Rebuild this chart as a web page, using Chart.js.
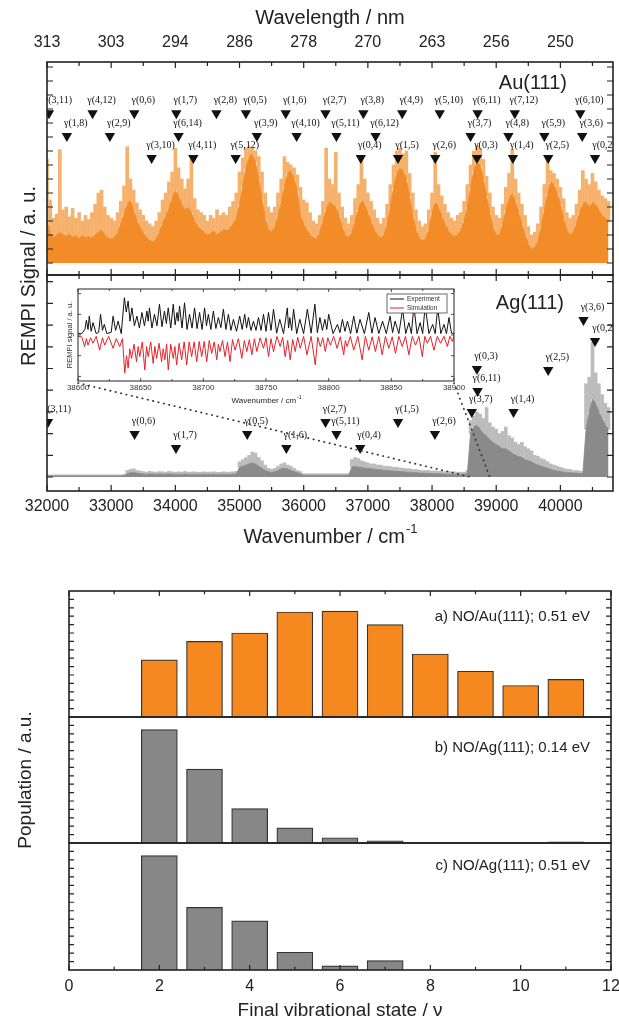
<!DOCTYPE html>
<html>
<head>
<meta charset="utf-8">
<title>REMPI spectra and vibrational state populations</title>
<script src="https://cdn.jsdelivr.net/npm/chart.js"></script>
<style>
  body { margin: 0; background: #fff; }
  #page { position: relative; width: 619px; height: 1025px; overflow: hidden; }
  #page canvas { position: absolute; left: 0; }
  .ytitle { position: absolute; transform: translate(-50%, -50%) rotate(-90deg); white-space: nowrap;
            font-family: "Liberation Sans", Arial, sans-serif; color: #222; }
</style>
</head>
<body>
<div id="page">
  <canvas id="au" width="619" height="281" style="top:0"></canvas>
  <canvas id="ag" width="619" height="292" style="top:268px"></canvas>
  <canvas id="inset" width="410" height="130" style="top:280px;left:60px"></canvas>
  <canvas id="barA" width="619" height="150" style="top:580px"></canvas>
  <canvas id="barB" width="619" height="150" style="top:705px"></canvas>
  <canvas id="barC" width="619" height="194" style="top:831px"></canvas>
  <div class="ytitle" style="left:28px;top:276px;font-size:20px">REMPI Signal / a. u.</div>
  <div class="ytitle" style="left:25px;top:780px;font-size:19px">Population / a.u.</div>
</div>
<script>
// ---- data ----
const wavenumberTicks = [32000, 33000, 34000, 35000, 36000, 37000, 38000, 39000, 40000];
const wavelengthLabels = ['313', '303', '294', '286', '278', '270', '263', '256', '250'];

const spectrumWn = [
  32000, 32050, 32100, 32150, 32200, 32250, 32300, 32350, 32400, 32450,
  32500, 32550, 32600, 32650, 32700, 32750, 32800, 32850, 32900, 32950,
  33000, 33050, 33100, 33150, 33200, 33250, 33300, 33350, 33400, 33450,
  33500, 33550, 33600, 33650, 33700, 33750, 33800, 33850, 33900, 33950,
  34000, 34050, 34100, 34150, 34200, 34250, 34300, 34350, 34400, 34450,
  34500, 34550, 34600, 34650, 34700, 34750, 34800, 34850, 34900, 34950,
  35000, 35050, 35100, 35150, 35200, 35250, 35300, 35350, 35400, 35450,
  35500, 35550, 35600, 35650, 35700, 35750, 35800, 35850, 35900, 35950,
  36000, 36050, 36100, 36150, 36200, 36250, 36300, 36350, 36400, 36450,
  36500, 36550, 36600, 36650, 36700, 36750, 36800, 36850, 36900, 36950,
  37000, 37050, 37100, 37150, 37200, 37250, 37300, 37350, 37400, 37450,
  37500, 37550, 37600, 37650, 37700, 37750, 37800, 37850, 37900, 37950,
  38000, 38050, 38100, 38150, 38200, 38250, 38300, 38350, 38400, 38450,
  38500, 38550, 38600, 38650, 38700, 38750, 38800, 38850, 38900, 38950,
  39000, 39050, 39100, 39150, 39200, 39250, 39300, 39350, 39400, 39450,
  39500, 39550, 39600, 39650, 39700, 39750, 39800, 39850, 39900, 39950,
  40000, 40050, 40100, 40150, 40200, 40250, 40300, 40350, 40400, 40450,
  40500, 40550, 40600, 40650, 40700, 40750
];

// Au(111): dense part of the trace and the lighter spikes above it
const auBody = [
  3.0, 2.2, 1.8, 2.0, 2.2, 2.0, 1.9, 2.1, 1.8, 2.0,
  1.7, 2.0, 1.8, 1.9, 1.8, 2.0, 2.2, 2.4, 2.0, 1.8,
  1.7, 1.8, 2.2, 2.8, 3.5, 4.2, 4.5, 3.8, 3.0, 2.6,
  2.2, 1.8, 1.6, 1.5, 1.7, 2.2, 2.8, 3.4, 3.9, 4.6,
  5.2, 4.8, 4.2, 3.8, 4.0, 3.6, 3.0, 2.6, 2.4, 2.2,
  2.0, 2.1, 2.3, 2.0, 2.2, 2.4, 2.3, 2.5, 2.8, 3.2,
  4.2, 5.5, 6.8, 7.6, 7.8, 7.2, 6.0, 4.6, 3.2, 2.4,
  2.2, 2.6, 3.4, 4.4, 5.5, 6.4, 6.6, 6.0, 5.2, 3.4,
  2.8, 2.4, 2.0, 1.8, 1.7, 2.2, 3.0, 3.8, 4.4, 4.2,
  4.0, 3.4, 2.6, 2.0, 1.8, 2.2, 3.0, 3.8, 4.5, 4.2,
  3.6, 3.0, 2.4, 2.0, 1.8, 2.0, 2.8, 4.0, 5.4, 6.4,
  6.8, 6.6, 6.0, 4.8, 3.4, 2.4, 1.8, 1.6, 1.7, 2.4,
  3.6, 4.4, 4.0, 3.4, 2.8, 2.4, 2.0, 1.9, 2.0, 2.4,
  3.0, 4.0, 5.4, 6.6, 7.2, 7.0, 6.0, 4.8, 3.6, 2.6,
  2.0, 2.0, 2.8, 3.8, 4.6, 5.0, 4.4, 3.6, 2.8, 2.0,
  1.4, 1.0, 1.1, 1.6, 2.6, 3.8, 5.0, 5.8, 5.6, 5.0,
  4.2, 3.2, 2.4, 2.0, 2.2, 2.8, 3.6, 4.2, 4.4, 4.0,
  4.3, 4.2, 3.8, 3.4, 3.2, 3.0
];
const auPeak = [
  7.4, 4.5, 3.2, 3.5, 8.1, 3.8, 4.0, 3.3, 3.9, 3.2,
  3.6, 3.0, 3.4, 3.1, 3.6, 4.2, 5.0, 5.2, 4.0, 3.4,
  3.2, 3.0, 3.6, 4.4, 5.5, 8.3, 6.0, 5.2, 4.3, 3.8,
  3.4, 3.0, 2.8, 2.6, 3.0, 3.6, 4.5, 5.0, 5.8, 6.5,
  8.2, 6.8, 6.0, 5.3, 6.0, 7.5, 4.6, 3.8, 3.6, 3.4,
  3.0, 3.4, 3.2, 3.8, 3.4, 3.6, 3.4, 4.0, 4.4, 5.0,
  6.5, 7.5, 8.2, 8.3, 8.2, 8.0, 7.6, 6.5, 5.0, 4.0,
  3.6, 4.0, 5.0, 6.0, 7.6, 7.2, 7.0, 6.8, 6.3, 5.4,
  4.5, 4.3, 3.6, 3.0, 2.8, 3.4, 4.4, 8.2, 6.0, 5.6,
  7.9, 5.0, 4.0, 3.2, 2.8, 3.4, 4.6, 5.6, 7.5, 6.0,
  5.0, 4.4, 3.8, 3.2, 2.8, 3.2, 4.2, 5.6, 7.0, 8.0,
  8.2, 7.8, 8.0, 6.4, 5.0, 3.8, 3.0, 2.6, 2.8, 3.8,
  5.0, 7.9, 5.6, 4.8, 4.2, 3.6, 3.2, 3.0, 3.4, 3.6,
  4.4, 5.6, 7.0, 8.0, 8.4, 8.2, 7.4, 6.2, 5.0, 4.0,
  3.4, 3.2, 4.2, 5.4, 6.4, 8.1, 6.0, 5.0, 4.2, 3.4,
  2.6, 2.0, 2.2, 2.8, 4.0, 5.6, 7.4, 6.6, 6.4, 6.0,
  5.4, 4.6, 3.6, 3.2, 3.4, 4.2, 5.2, 6.6, 6.0, 5.6,
  6.4, 5.8, 5.2, 4.8, 4.6, 4.4
];

// Ag(111)
const agBody = [
  0.05, 0.05, 0.05, 0.05, 0.05, 0.05, 0.05, 0.05, 0.05, 0.05,
  0.05, 0.05, 0.05, 0.05, 0.05, 0.05, 0.05, 0.05, 0.05, 0.05,
  0.05, 0.05, 0.05, 0.05, 0.06, 0.15, 0.2, 0.2, 0.18, 0.15,
  0.14, 0.12, 0.14, 0.13, 0.12, 0.14, 0.13, 0.12, 0.14, 0.13,
  0.12, 0.13, 0.12, 0.14, 0.12, 0.12, 0.13, 0.12, 0.12, 0.13,
  0.12, 0.12, 0.13, 0.12, 0.12, 0.13, 0.12, 0.12, 0.13, 0.14,
  0.45, 0.5, 0.55, 0.6, 0.65, 0.6, 0.5, 0.4, 0.3, 0.25,
  0.2, 0.25, 0.3, 0.38, 0.4, 0.38, 0.3, 0.25, 0.2, 0.15,
  0.08, 0.08, 0.08, 0.08, 0.08, 0.08, 0.08, 0.08, 0.08, 0.08,
  0.08, 0.08, 0.08, 0.08, 0.08, 0.45, 0.5, 0.45, 0.45, 0.4,
  0.4, 0.38, 0.36, 0.34, 0.33, 0.3, 0.3, 0.28, 0.28, 0.26,
  0.25, 0.24, 0.22, 0.22, 0.2, 0.2, 0.18, 0.18, 0.17, 0.16,
  0.16, 0.15, 0.15, 0.14, 0.14, 0.13, 0.13, 0.12, 0.12, 0.12,
  0.12, 0.15, 2.0, 2.3, 2.4, 2.2, 2.0, 1.9, 1.7, 1.6,
  1.5, 1.4, 1.3, 1.3, 1.2, 1.1, 1.0, 0.95, 0.9, 0.8,
  0.75, 0.7, 0.6, 0.55, 0.5, 0.45, 0.4, 0.35, 0.3, 0.28,
  0.25, 0.22, 0.2, 0.2, 0.18, 0.18, 0.15, 0.15, 2.2, 3.0,
  3.6, 3.4, 3.0, 2.7, 2.4, 2.2
];
const agPeak = [
  0.1, 0.1, 0.1, 0.1, 0.1, 0.1, 0.1, 0.1, 0.1, 0.1,
  0.1, 0.1, 0.1, 0.1, 0.1, 0.1, 0.1, 0.1, 0.1, 0.1,
  0.1, 0.1, 0.1, 0.1, 0.12, 0.3, 0.35, 0.38, 0.3, 0.28,
  0.25, 0.22, 0.26, 0.24, 0.22, 0.25, 0.24, 0.22, 0.26, 0.24,
  0.22, 0.24, 0.22, 0.26, 0.22, 0.23, 0.24, 0.22, 0.22, 0.24,
  0.22, 0.23, 0.24, 0.22, 0.22, 0.24, 0.22, 0.23, 0.24, 0.26,
  0.7, 0.8, 0.9, 1.0, 1.15, 1.1, 0.9, 0.75, 0.55, 0.4,
  0.35, 0.4, 0.5, 0.6, 0.65, 0.55, 0.5, 0.4, 0.3, 0.25,
  0.15, 0.15, 0.15, 0.15, 0.15, 0.15, 0.15, 0.15, 0.15, 0.15,
  0.15, 0.15, 0.15, 0.15, 0.15, 0.8, 0.9, 0.85, 0.75, 0.7,
  0.65, 0.6, 0.6, 0.55, 0.55, 0.5, 0.5, 0.48, 0.45, 0.45,
  0.42, 0.4, 0.38, 0.38, 0.35, 0.35, 0.32, 0.3, 0.3, 0.3,
  0.28, 0.28, 0.26, 0.26, 0.25, 0.25, 0.24, 0.24, 0.22, 0.22,
  0.22, 0.3, 2.6, 2.8, 3.0, 2.9, 2.7, 3.2, 2.5, 2.3,
  2.2, 2.0, 2.1, 2.3, 1.9, 1.8, 1.6, 1.5, 1.6, 1.4,
  1.3, 1.2, 1.0, 0.95, 0.85, 0.8, 0.7, 0.6, 0.55, 0.5,
  0.45, 0.4, 0.35, 0.35, 0.3, 0.3, 0.28, 0.25, 4.3, 4.6,
  6.2, 4.8, 4.3, 3.8, 3.4, 3.2
];

// band assignments (gamma bands) marked with triangles
const auMarkerText = [
  'γ(3,11)', 'γ(4,12)', 'γ(0,6)', 'γ(1,7)', 'γ(2,8)', 'γ(0,5)', 'γ(1,6)', 'γ(2,7)', 'γ(3,8)', 'γ(4,9)',
  'γ(5,10)', 'γ(6,11)', 'γ(7,12)', 'γ(6,10)',
  'γ(1,8)', 'γ(2,9)', 'γ(6,14)', 'γ(3,9)', 'γ(4,10)', 'γ(5,11)', 'γ(6,12)', 'γ(3,7)', 'γ(4,8)', 'γ(5,9)', 'γ(3,6)',
  'γ(3,10)', 'γ(4,11)', 'γ(5,12)', 'γ(0,4)', 'γ(1,5)', 'γ(2,6)', 'γ(0,3)', 'γ(1,4)', 'γ(2,5)', 'γ(0,2)'
];
const auMarkerWn = [
  32030, 32710, 33360, 34015, 34640, 35100, 35720, 36340, 36930, 37535, 38120, 38710, 39290, 40310,
  32310, 32980, 34050, 35270, 35890, 36510, 37120, 38600, 39190, 39750, 40340,
  33630, 34280, 34940, 36890, 37470, 38050, 38700, 39260, 39810, 40540
];
const auMarkerLevel = [
  10.7, 10.7, 10.7, 10.7, 10.7, 10.7, 10.7, 10.7, 10.7, 10.7, 10.7, 10.7, 10.7, 10.7,
  9.07, 9.07, 9.07, 9.07, 9.07, 9.07, 9.07, 9.07, 9.07, 9.07, 9.07,
  7.5, 7.5, 7.5, 7.5, 7.5, 7.5, 7.5, 7.5, 7.5, 7.5
];
const agMarkerText = [
  'γ(3,11)', 'γ(0,6)', 'γ(1,7)', 'γ(0,5)', 'γ(1,6)', 'γ(2,7)', 'γ(5,11)', 'γ(0,4)', 'γ(1,5)',
  'γ(2,6)', 'γ(3,7)', 'γ(6,11)', 'γ(0,3)', 'γ(1,4)', 'γ(2,5)', 'γ(3,6)', 'γ(0,2)'
];
const agMarkerWn = [32015, 33365, 34010, 35120, 35730, 36340, 36510, 36880, 37470, 38045, 38620, 38710, 38700, 39270, 39810, 40360, 40540];
const agMarkerLevel = [2.53, 1.98, 1.34, 1.98, 1.34, 2.53, 1.98, 1.34, 2.53, 1.98, 3.0, 3.96, 4.98, 3.0, 4.93, 7.23, 6.27];

// inset: 38600 - 38900 cm-1, [wavenumber, signal]
const insetTicks = [38600, 38650, 38700, 38750, 38800, 38850, 38900];
const experiment = [
  [38600, 0.03], [38603, 0.03], [38605.5, 0.12], [38606.7, 0.32], [38608, 0.12], [38609, 0.41], [38610.5, 0.08],
  [38612, 0.27], [38614.5, 0.03], [38616.5, 0.06], [38618, 0.45], [38619.5, 0.1], [38621, 0.23], [38623, 0.03],
  [38626.5, 0.06], [38628, 0.41], [38630, 0.1], [38632, 0.3], [38634.5, 0.03], [38637, 0.81], [38638.5, 0.5],
  [38640, 0.74], [38641.5, 0.3], [38643, 0.59], [38645, 0.2], [38647, 0.41], [38649, 0.15], [38651, 0.49],
  [38653, 0.2], [38655, 0.52], [38656, 0.3], [38657, 0.59], [38659, 0.15], [38661, 0.45], [38663, 0.2],
  [38665, 0.67], [38667, 0.18], [38669, 0.52], [38670.5, 0.25], [38672, 0.59], [38674, 0.15], [38676, 0.67],
  [38677.5, 0.22], [38679, 0.49], [38680, 0.3], [38681, 0.63], [38683, 0.15], [38685, 0.7], [38687, 0.12],
  [38689, 0.45], [38691, 0.15], [38693, 0.59], [38695, 0.14], [38697, 0.49], [38699, 0.12], [38701, 0.59],
  [38702.5, 0.2], [38704, 0.45], [38706, 0.12], [38708, 0.52], [38710, 0.14], [38712, 0.38], [38714, 0.16],
  [38716, 0.56], [38718, 0.12], [38720, 0.45], [38722, 0.1], [38724, 0.34], [38726.5, 0.08], [38729, 0.41],
  [38731, 0.12], [38733, 0.45], [38734.5, 0.15], [38736, 0.38], [38738, 0.1], [38740, 0.3], [38742, 0.1],
  [38744, 0.38], [38746, 0.1], [38748, 0.45], [38750, 0.08], [38752, 0.49], [38754, 0.1], [38756, 0.56],
  [38758.5, 0.04], [38761, 0.34], [38764, 0.03], [38767, 0.59], [38768, 0.15], [38769, 0.38], [38770.5, 0.1],
  [38772, 0.56], [38774.5, 0.03], [38777, 0.34], [38780, 0.03], [38783, 0.56], [38786, 0.04], [38789, 0.67],
  [38791, 0.05], [38793, 0.38], [38795, 0.1], [38797, 0.34], [38798.5, 0.12], [38800, 0.45], [38803.5, 0.03],
  [38807, 0.23], [38809, 0.05], [38811, 0.34], [38813, 0.08], [38815, 0.3], [38817.5, 0.03], [38820, 0.41],
  [38822.5, 0.04], [38825, 0.34], [38828.5, 0.03], [38832, 0.49], [38834.5, 0.04], [38837, 0.38], [38840, 0.03],
  [38843, 0.3], [38846, 0.03], [38849, 0.41], [38851, 0.05], [38853, 0.3], [38856, 0.03], [38859, 0.56],
  [38861.5, 0.03], [38864, 0.27], [38866, 0.03], [38868, 0.63], [38870.5, 0.03], [38873, 0.27], [38875, 0.03],
  [38877, 0.63], [38880, 0.03], [38883, 0.23], [38885, 0.03], [38887, 0.59], [38889.5, 0.03], [38892, 0.23],
  [38894, 0.03], [38896, 0.38], [38898, 0.04], [38900, 0.03]
];
const simulation = [
  [38600, -0.03], [38603, -0.04], [38605.3, -0.25], [38606.7, -0.08], [38608, -0.22], [38610, -0.06], [38612, -0.18],
  [38614.5, -0.03], [38617.3, -0.33], [38619.5, -0.06], [38621.3, -0.22], [38624.5, -0.03], [38628, -0.29],
  [38630.5, -0.08], [38633.3, -0.25], [38635.5, -0.08], [38637.3, -0.83], [38638.7, -0.45], [38640, -0.72],
  [38641.3, -0.3], [38642.7, -0.51], [38644.7, -0.2], [38646.7, -0.58], [38648, -0.25], [38649.3, -0.47],
  [38651.3, -0.15], [38653.3, -0.76], [38654.7, -0.25], [38656, -0.47], [38658, -0.15], [38660, -0.62],
  [38661.3, -0.25], [38662.7, -0.51], [38664.7, -0.18], [38666.7, -0.58], [38668, -0.3], [38669.3, -0.54],
  [38670.7, -0.2], [38672, -0.76], [38674, -0.2], [38676, -0.51], [38677.3, -0.25], [38678.7, -0.65],
  [38680.7, -0.18], [38682.7, -0.54], [38684.7, -0.15], [38686.7, -0.65], [38688.7, -0.15], [38690.7, -0.47],
  [38692.7, -0.15], [38694.7, -0.58], [38696.7, -0.14], [38698.7, -0.47], [38700.7, -0.14], [38702.7, -0.58],
  [38704.7, -0.12], [38706.7, -0.4], [38708.7, -0.15], [38710.7, -0.54], [38712, -0.2], [38713.3, -0.36],
  [38715.3, -0.12], [38717.3, -0.47], [38719.3, -0.15], [38721.3, -0.58], [38723.3, -0.1], [38725.3, -0.33],
  [38728, -0.08], [38730.7, -0.51], [38732.7, -0.12], [38734.7, -0.36], [38736.7, -0.1], [38738.7, -0.43],
  [38740.7, -0.08], [38742.7, -0.36], [38745.3, -0.06], [38748, -0.29], [38750, -0.06], [38752, -0.47],
  [38754, -0.08], [38756, -0.36], [38758.7, -0.03], [38761.3, -0.25], [38763.3, -0.05], [38765.3, -0.47],
  [38767.3, -0.12], [38769.3, -0.54], [38771.3, -0.1], [38773.3, -0.36], [38775.3, -0.05], [38777.3, -0.29],
  [38780, -0.03], [38782.7, -0.43], [38786, -0.03], [38789.3, -0.65], [38791.3, -0.05], [38793.3, -0.25],
  [38795.3, -0.06], [38797.3, -0.36], [38799.3, -0.06], [38801.3, -0.22], [38804, -0.03], [38806.7, -0.29],
  [38809.3, -0.04], [38812, -0.43], [38813.3, -0.12], [38814.7, -0.25], [38817.3, -0.03], [38820, -0.33],
  [38823.3, -0.03], [38826.7, -0.54], [38829.3, -0.03], [38832, -0.33], [38834.7, -0.04], [38837.3, -0.36],
  [38840, -0.03], [38842.7, -0.43], [38845.3, -0.03], [38848, -0.29], [38850.7, -0.04], [38853.3, -0.4],
  [38856, -0.03], [38858.7, -0.25], [38861.3, -0.03], [38864, -0.43], [38866.7, -0.03], [38869.3, -0.22],
  [38872, -0.03], [38874.7, -0.47], [38876.7, -0.03], [38878.7, -0.18], [38881.3, -0.03], [38884, -0.33],
  [38886.7, -0.03], [38889.3, -0.18], [38892, -0.03], [38894.7, -0.25], [38896.7, -0.03], [38898.7, -0.14],
  [38900, -0.03]
];

// vibrational state populations
const stateTicks = [0, 2, 4, 6, 8, 10, 12];
const states = [2, 3, 4, 5, 6, 7, 8, 9, 10, 11];
const popAu051 = [6.8, 9.0, 10.0, 12.5, 12.6, 11.0, 7.5, 5.45, 3.75, 4.47];
const popAg014 = [13.5, 8.8, 4.1, 1.8, 0.63, 0.27, null, null, null, 0.15];
const popAg051 = [13.5, 7.4, 5.8, 2.1, 0.48, 1.1, null, null, null, null];

// ---- helpers / plugins ----
const FONT = '"Liberation Sans", Arial, sans-serif';
Chart.defaults.font.family = FONT;
Chart.defaults.color = '#222';
Chart.defaults.animation = false;
Chart.defaults.plugins.legend.display = false;
Chart.defaults.plugins.tooltip.enabled = false;

const toXY = (xs, ys) => xs.map((v, i) => ({ x: v, y: ys[i] }));
const fixedTicks = list => s => { s.ticks = list.map(v => ({ value: v })); };

// box round each panel with inward ticks on every side
const frame = {
  id: 'frame',
  afterDraw(chart, args, o) {
    if (!o.yStep) return;
    const { ctx, chartArea: a } = chart;
    const x = chart.scales.x, y = chart.scales.y;
    const len = o.tick || 5;
    ctx.save();
    ctx.strokeStyle = '#222';
    ctx.lineWidth = o.thin ? 0.8 : 1.2;
    ctx.beginPath();
    if (o.xStep) {
      for (let v = x.min; v <= x.max + 1e-6; v += o.xStep) {
        const px = x.getPixelForValue(v);
        const l = Math.abs(v % o.xMajor) < 1e-6 ? len : len * 0.65;
        if (o.top) { ctx.moveTo(px, a.top); ctx.lineTo(px, a.top + l); }
        if (o.bottom) { ctx.moveTo(px, a.bottom); ctx.lineTo(px, a.bottom - l); }
      }
    }
    for (let v = o.yFrom; v <= o.yTo + 1e-6; v += o.yStep) {
      const py = y.getPixelForValue(v);
      ctx.moveTo(a.left, py); ctx.lineTo(a.left + len, py);
      ctx.moveTo(a.right, py); ctx.lineTo(a.right - len, py);
    }
    ctx.stroke();
    ctx.lineWidth = o.thin ? 1 : 1.6;
    ctx.strokeRect(a.left, a.top, a.right - a.left, a.bottom - a.top);
    ctx.restore();
  }
};

// γ(v',v'') names next to the triangles of dataset 0
const markerText = {
  id: 'markerText',
  afterDatasetsDraw(chart, args, o) {
    if (!o.text) return;
    const { ctx, chartArea: a } = chart;
    ctx.save();
    ctx.beginPath();
    ctx.rect(a.left, a.top, a.right - a.left, a.bottom - a.top);
    ctx.clip();
    ctx.font = '10px "Liberation Serif", "Times New Roman", serif';
    ctx.fillStyle = '#111';
    ctx.textAlign = 'center';
    ctx.textBaseline = 'middle';
    chart.getDatasetMeta(0).data.forEach((p, i) => ctx.fillText(o.text[i], p.x + 9, p.y - 13));
    ctx.restore();
  }
};

const panelLabel = {
  id: 'panelLabel',
  afterDraw(chart, args, o) {
    if (!o.text) return;
    const { ctx, chartArea: a } = chart;
    ctx.save();
    ctx.font = o.size + 'px ' + FONT;
    ctx.fillStyle = '#222';
    ctx.textAlign = 'right';
    ctx.textBaseline = 'middle';
    ctx.fillText(o.text, a.right - o.right, a.top + o.top);
    ctx.restore();
  }
};

// x title with a superscript part (cm-1)
const xTitle = {
  id: 'xTitle',
  afterDraw(chart, args, o) {
    if (!o.text) return;
    const { ctx, chartArea: a } = chart;
    const big = o.size + 'px ' + FONT, small = Math.round(o.size * 0.65) + 'px ' + FONT;
    ctx.save();
    ctx.fillStyle = '#222';
    ctx.textAlign = 'left';
    ctx.textBaseline = 'middle';
    ctx.font = big;
    const w1 = ctx.measureText(o.text).width;
    ctx.font = small;
    const w2 = ctx.measureText(o.sup).width;
    const x0 = (a.left + a.right) / 2 - (w1 + w2) / 2, y0 = a.bottom + o.dy;
    ctx.font = big;
    ctx.fillText(o.text, x0, y0);
    ctx.font = small;
    ctx.fillText(o.sup, x0 + w1 + 1, y0 - o.size * 0.4);
    ctx.restore();
  }
};

const sideTitle = {
  id: 'sideTitle',
  afterDraw(chart, args, o) {
    if (!o.text) return;
    const { ctx, chartArea: a } = chart;
    ctx.save();
    ctx.translate(o.x, (a.top + a.bottom) / 2);
    ctx.rotate(-Math.PI / 2);
    ctx.font = o.size + 'px ' + FONT;
    ctx.fillStyle = '#333';
    ctx.textAlign = 'center';
    ctx.textBaseline = 'middle';
    ctx.fillText(o.text, 0, 0);
    ctx.restore();
  }
};

const legendBox = {
  id: 'legendBox',
  afterDraw(chart, args, o) {
    if (!o.show) return;
    const { ctx, chartArea: a } = chart;
    const w = 60, h = 19, x0 = a.right - 7 - w, y0 = a.top + 5;
    ctx.save();
    ctx.fillStyle = '#fff';
    ctx.fillRect(x0, y0, w, h);
    ctx.strokeStyle = '#444';
    ctx.lineWidth = 0.8;
    ctx.strokeRect(x0, y0, w, h);
    ctx.font = '6.5px ' + FONT;
    ctx.textBaseline = 'middle';
    chart.data.datasets.forEach((d, i) => {
      const yy = y0 + 5 + i * 9;
      ctx.strokeStyle = d.borderColor;
      ctx.lineWidth = 1;
      ctx.beginPath();
      ctx.moveTo(x0 + 3, yy);
      ctx.lineTo(x0 + 17, yy);
      ctx.stroke();
      ctx.fillStyle = '#333';
      ctx.fillText(d.label, x0 + 20, yy);
    });
    ctx.restore();
  }
};

// dotted lines from the inset corners down to the zoomed part of the Ag trace
let insetChart = null;
const zoomLines = {
  id: 'zoomLines',
  afterDatasetsDraw(chart, args, o) {
    if (!o.show || !insetChart) return;
    const { ctx } = chart;
    const r0 = chart.canvas.getBoundingClientRect();
    const r1 = insetChart.canvas.getBoundingClientRect();
    const ix = insetChart.scales.x;
    ctx.save();
    ctx.strokeStyle = '#333';
    ctx.lineWidth = 1.7;
    ctx.lineCap = 'round';
    ctx.setLineDash([0.5, 5]);
    [ix.min, ix.max].forEach(v => {
      ctx.beginPath();
      ctx.moveTo(r1.left - r0.left + ix.getPixelForValue(v), r1.top - r0.top + insetChart.chartArea.bottom + 2);
      ctx.lineTo(chart.scales.x.getPixelForValue(v), chart.scales.y.getPixelForValue(0));
      ctx.stroke();
    });
    ctx.restore();
  }
};

Chart.register(frame, markerText, panelLabel, xTitle, sideTitle, legendBox, zoomLines);

const markerSet = (xs, ys) => ({
  data: toXY(xs, ys), showLine: false, pointStyle: 'triangle', pointRotation: 180,
  pointRadius: 6, pointBackgroundColor: '#111', pointBorderWidth: 0
});
// dense part of a trace, filled down to the baseline
const traceSet = (ys, color) => ({
  data: toXY(spectrumWn, ys), borderColor: color, backgroundColor: color,
  borderWidth: 0.8, fill: 'origin', pointRadius: 0
});
// lighter spikes reaching from the dense part up to the peak values
const spikeSet = (lo, hi, color) => ({
  type: 'bar', data: spectrumWn.map((v, i) => ({ x: v, y: [lo[i], hi[i]] })),
  backgroundColor: color, borderWidth: 0, barThickness: 3
});

// ---- inset (created first so the Ag panel can find its corners) ----
insetChart = new Chart(document.getElementById('inset'), {
  type: 'line',
  data: {
    datasets: [
      { label: 'Experiment', data: experiment.map(p => ({ x: p[0], y: p[1] })), borderColor: '#111', borderWidth: 1, pointRadius: 0 },
      { label: 'Simulation', data: simulation.map(p => ({ x: p[0], y: p[1] })), borderColor: '#e8202a', borderWidth: 1, pointRadius: 0 }
    ]
  },
  options: {
    responsive: false,
    layout: { padding: { left: 18, right: 16, top: 9, bottom: 0 } },
    plugins: {
      frame: { xStep: 25, xMajor: 50, top: true, bottom: true, yFrom: -0.9, yTo: 0.9, yStep: 0.45, tick: 3, thin: true },
      xTitle: { text: 'Wavenumber / cm', sup: '-1', dy: 20, size: 8 },
      sideTitle: { text: 'REMPI signal / a. u.', x: 10, size: 7.5 },
      legendBox: { show: true }
    },
    scales: {
      x: {
        type: 'linear', min: 38600, max: 38900,
        afterBuildTicks: fixedTicks(insetTicks),
        afterFit: s => { s.height = 29; },
        ticks: { callback: v => String(v), font: { size: 8 }, color: '#333', padding: 2, maxRotation: 0, autoSkip: false },
        grid: { display: false, drawTicks: false }, border: { display: false }
      },
      y: { min: -1, max: 1, display: false }
    }
  }
});

// ---- Au(111) panel with the wavelength axis on top ----
new Chart(document.getElementById('au'), {
  type: 'line',
  data: {
    datasets: [
      markerSet(auMarkerWn, auMarkerLevel),
      traceSet(auBody, '#f28c28'),
      spikeSet(auBody, auPeak, '#f6b26c')
    ]
  },
  options: {
    responsive: false,
    layout: { padding: { left: 47, right: 3, top: 0, bottom: 6 } },
    plugins: {
      frame: { xStep: 500, xMajor: 1000, top: true, bottom: true, yFrom: 0, yTo: 14, yStep: 1, tick: 6 },
      markerText: { text: auMarkerText },
      panelLabel: { text: 'Au(111)', right: 46, top: 21, size: 20 }
    },
    scales: {
      x: { type: 'linear', min: 32000, max: 40820, offset: false, display: false },
      xTop: {
        type: 'linear', position: 'top', min: 32000, max: 40820,
        afterBuildTicks: fixedTicks(wavenumberTicks),
        afterFit: s => { s.height = 62; s.paddingLeft = 0; s.paddingRight = 0; },
        ticks: { callback: (v, i) => wavelengthLabels[i], font: { size: 16 }, padding: 10, maxRotation: 0, autoSkip: false },
        grid: { display: false, drawTicks: false }, border: { display: false },
        title: { display: true, text: 'Wavelength / nm', font: { size: 20 }, padding: { top: 6, bottom: 0 } }
      },
      y: { min: -0.857, max: 14.357, display: false }
    }
  }
});

// ---- Ag(111) panel with the wavenumber axis ----
new Chart(document.getElementById('ag'), {
  type: 'line',
  data: {
    datasets: [
      markerSet(agMarkerWn, agMarkerLevel),
      traceSet(agBody, '#8a8a8a'),
      spikeSet(agBody, agPeak, '#bcbcbc')
    ]
  },
  options: {
    responsive: false,
    layout: { padding: { left: 47, right: 3, top: 7, bottom: 0 } },
    plugins: {
      frame: { xStep: 500, xMajor: 1000, top: true, bottom: true, yFrom: 0, yTo: 9, yStep: 1, tick: 6 },
      markerText: { text: agMarkerText },
      panelLabel: { text: 'Ag(111)', right: 49, top: 28, size: 20 },
      xTitle: { text: 'Wavenumber / cm', sup: '-1', dy: 46, size: 20 },
      zoomLines: { show: true }
    },
    scales: {
      x: {
        type: 'linear', min: 32000, max: 40820, offset: false,
        afterBuildTicks: fixedTicks(wavenumberTicks),
        afterFit: s => { s.height = 69; s.paddingLeft = 0; s.paddingRight = 0; },
        ticks: { callback: v => String(v), font: { size: 16 }, padding: 6, maxRotation: 0, autoSkip: false },
        grid: { display: false, drawTicks: false }, border: { display: false }
      },
      y: { min: -0.645, max: 9.309, display: false }
    }
  }
});

// ---- population bar panels ----
function barPanel(id, values, color, label, labelTop, pad, isLast, isFirst) {
  const x = isLast
    ? {
        type: 'linear', min: 0, max: 12, offset: false,
        afterBuildTicks: fixedTicks(stateTicks),
        afterFit: s => { s.height = 55; s.paddingLeft = 0; s.paddingRight = 0; },
        ticks: { font: { size: 16 }, padding: 7, maxRotation: 0, autoSkip: false },
        grid: { display: false, drawTicks: false }, border: { display: false },
        title: { display: true, text: 'Final vibrational state / ν', font: { size: 19 }, padding: { top: 0, bottom: 3 } }
      }
    : { type: 'linear', min: 0, max: 12, offset: false, display: false, afterBuildTicks: fixedTicks(stateTicks) };
  return new Chart(document.getElementById(id), {
    type: 'bar',
    data: {
      datasets: [{
        data: toXY(states, values), backgroundColor: color, borderColor: '#333',
        borderWidth: 1.2, barThickness: 36, borderSkipped: 'start'
      }]
    },
    options: {
      responsive: false,
      layout: { padding: pad },
      plugins: {
        frame: { xStep: 1, xMajor: 2, top: isFirst, bottom: isLast, yFrom: 1, yTo: 14, yStep: 1, tick: 5 },
        panelLabel: { text: label, right: 21, top: labelTop, size: 15 }
      },
      scales: { x: x, y: { min: 0, max: 15, display: false } }
    }
  });
}

barPanel('barA', popAu051, '#f5891f', 'a) NO/Au(111); 0.51 eV', 26, { left: 69, right: 8, top: 11, bottom: 13 }, false, true);
barPanel('barB', popAg014, '#878787', 'b) NO/Ag(111); 0.14 eV', 31, { left: 69, right: 8, top: 12, bottom: 12 }, false, false);
barPanel('barC', popAg051, '#878787', 'c) NO/Ag(111); 0.51 eV', 23, { left: 69, right: 8, top: 12, bottom: 0 }, true, false);
</script>
</body>
</html>
